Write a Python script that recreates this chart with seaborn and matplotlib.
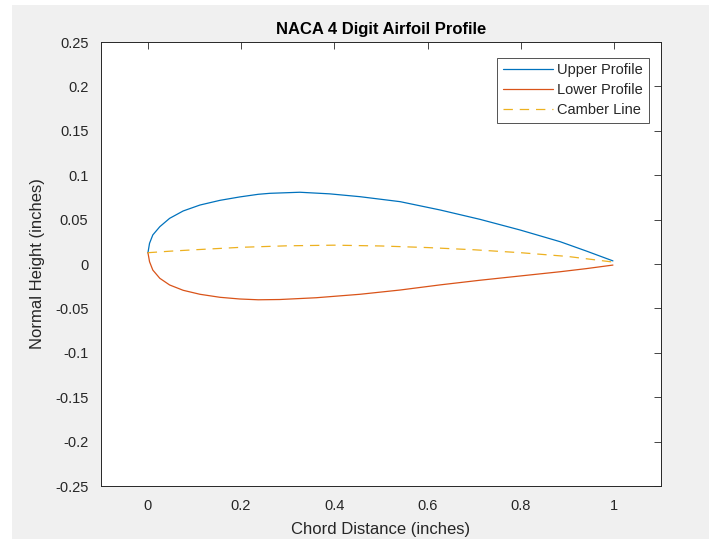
import numpy as np
import pandas as pd
import seaborn as sns
import matplotlib.pyplot as plt
from matplotlib.patches import Rectangle

# values
upper_x = [0.0006, 0.004, 0.011, 0.026, 0.047, 0.076, 0.112, 0.155, 0.197, 0.237,
           0.262, 0.326, 0.39, 0.455, 0.541, 0.627, 0.712, 0.798, 0.884, 0.940, 0.997]
upper_y = [0.0127, 0.0233, 0.0327, 0.042, 0.0514, 0.0597, 0.0664, 0.0717, 0.0755, 0.0785,
           0.0796, 0.0808, 0.0790, 0.0758, 0.0702, 0.0608, 0.0503, 0.0383, 0.0251, 0.0146, 0.0035]

lower_x = [0.0006, 0.004, 0.011, 0.026, 0.047, 0.076, 0.112, 0.155, 0.197, 0.237,
           0.283, 0.361, 0.455, 0.541, 0.627, 0.712, 0.798, 0.884, 0.940, 0.997]
lower_y = [0.0127, 0.0026, -0.0068, -0.0161, -0.0236, -0.0296, -0.0341, -0.0375, -0.0394, -0.0403,
           -0.0400, -0.0380, -0.0341, -0.0293, -0.0235, -0.0183, -0.0135, -0.0087, -0.0052, -0.0012]

camber_x = [0.0, 0.05, 0.1, 0.2, 0.3, 0.4, 0.5, 0.6, 0.7, 0.8, 0.9, 1.0]
camber_y = [0.0127, 0.0145, 0.0160, 0.0188, 0.0205, 0.0212, 0.0203, 0.0185, 0.0160, 0.0127, 0.0085, 0.0020]

sns.set_style("white")
plt.rcParams['font.family'] = ['Liberation Sans', 'DejaVu Sans']

fig = plt.figure(figsize=(7.09, 5.39), dpi=100, facecolor='white')
fig.patches.append(Rectangle((12/709, 0), 1, 1 - 5/539, transform=fig.transFigure,
                             facecolor='#f0f0f0', edgecolor='none', zorder=-10))
ax = fig.add_axes([101/709, 1 - 486/539, 560/709, 444/539])

upper = pd.DataFrame({'x': upper_x, 'y': upper_y})
lower = pd.DataFrame({'x': lower_x, 'y': lower_y})
camber = pd.DataFrame({'x': camber_x, 'y': camber_y})

sns.lineplot(data=upper, x='x', y='y', sort=False, estimator=None, color='#0072BD',
             linewidth=0.9, label='Upper Profile', ax=ax)
sns.lineplot(data=lower, x='x', y='y', sort=False, estimator=None, color='#D95319',
             linewidth=0.9, label='Lower Profile', ax=ax)
sns.lineplot(data=camber, x='x', y='y', sort=False, estimator=None, color='#EDB120',
             linewidth=0.9, linestyle=(0, (7.5, 5.5)), label='Camber Line', ax=ax)

ax.set_xlim(-0.1, 1.1)
ax.set_ylim(-0.25, 0.25)
ax.set_xticks([0, 0.2, 0.4, 0.6, 0.8, 1])
ax.set_xticklabels(['0', '0.2', '0.4', '0.6', '0.8', '1'])
ax.set_yticks(np.arange(-0.25, 0.26, 0.05))
ax.set_yticklabels(['-0.25', '-0.2', '-0.15', '-0.1', '-0.05', '0', '0.05', '0.1', '0.15', '0.2', '0.25'])

ax.tick_params(direction='in', length=5, width=0.6, top=True, right=True,
               labelsize=10.5, colors='#262626', pad=9)
for s in ax.spines.values():
    s.set_visible(True)
    s.set_color('#262626')
    s.set_linewidth(0.7)

ax.set_xlabel('Chord Distance (inches)', fontsize=12, color='#262626', labelpad=7)
ax.set_ylabel('Normal Height (inches)', fontsize=12, color='#262626', labelpad=7)
ax.set_title('NACA 4 Digit Airfoil Profile', fontsize=12, fontweight='bold', color='black', pad=6)

leg = ax.legend(loc='upper right', fontsize=10.5, frameon=True, fancybox=False,
                handlelength=3.4, handletextpad=0.3, borderpad=0.4, labelspacing=0.4,
                bbox_to_anchor=(0.978, 0.965), borderaxespad=0)
leg.get_frame().set_edgecolor('#262626')
leg.get_frame().set_linewidth(0.7)

fig.savefig('out.png', dpi=100, facecolor=fig.get_facecolor())
